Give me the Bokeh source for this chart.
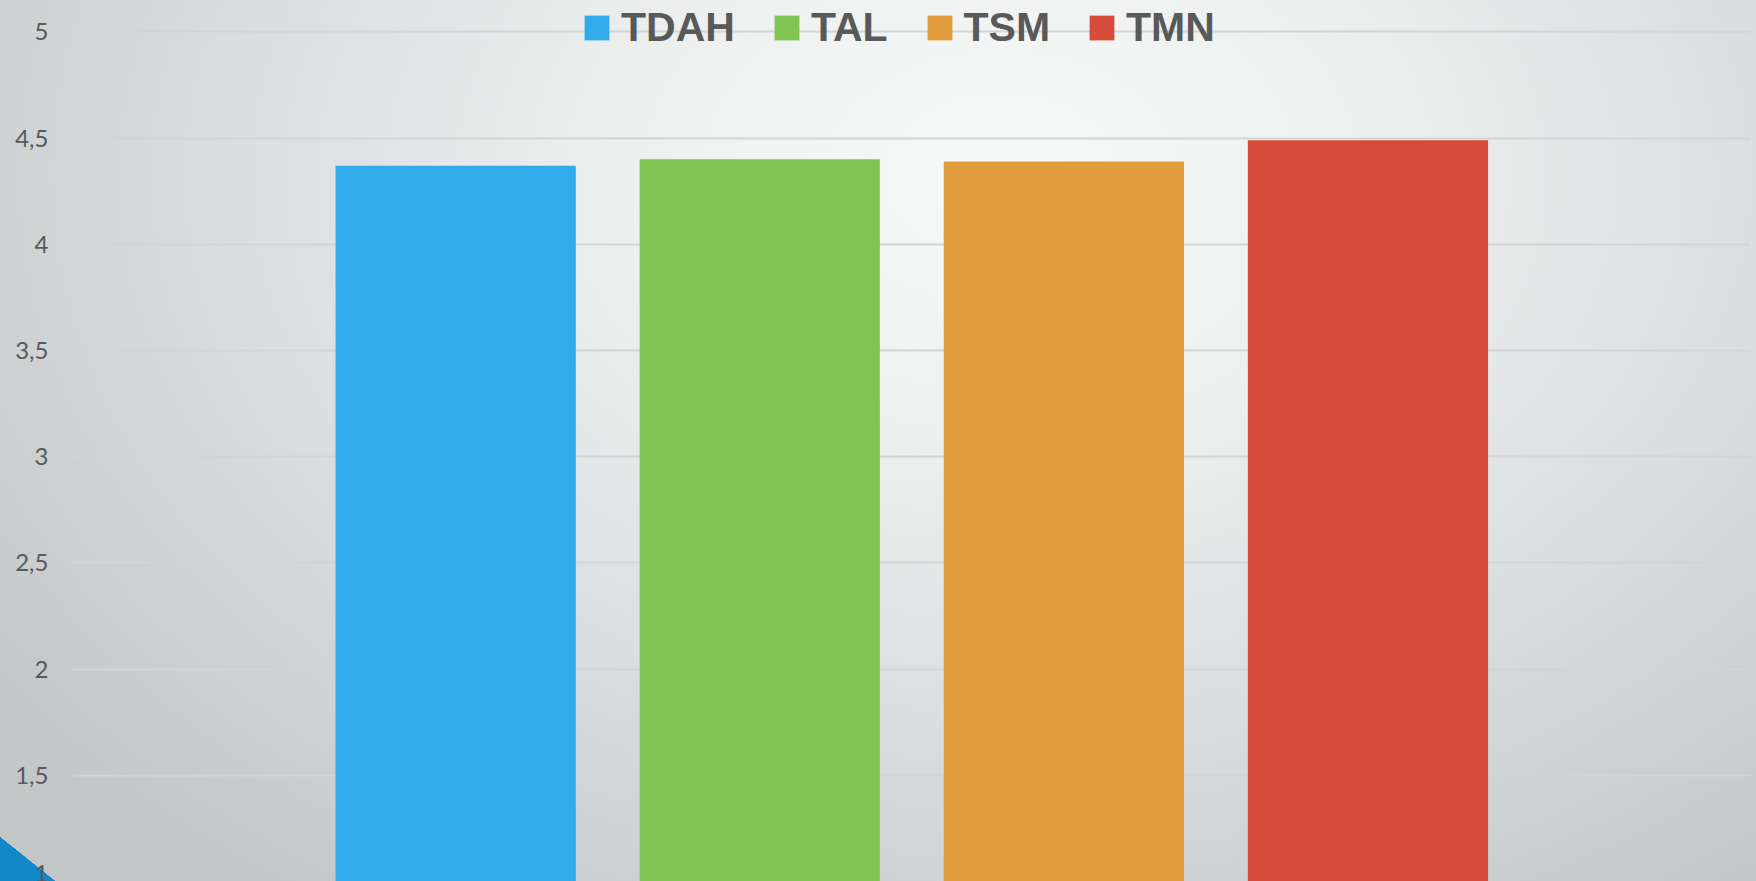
from bokeh.plotting import figure
from bokeh.models import Range1d, FixedTicker, ColumnDataSource, CustomJSTickFormatter
from bokeh.embed import file_html
from bokeh.resources import INLINE

categories = ["TDAH", "TAL", "TSM", "TMN"]
values = [4.37, 4.40, 4.39, 4.49]
colors = ["#31ACEB", "#81C451", "#E29D3E", "#D74B3B"]
y_ticks = [1, 1.5, 2, 2.5, 3, 3.5, 4, 4.5, 5]
y_tick_labels = ["1", "1,5", "2", "2,5", "3", "3,5", "4", "4,5", "5"]

src = ColumnDataSource(dict(
    x=list(range(len(categories))),
    top=values,
    color=colors,
    cat=categories,
))

W, H = 1756, 881
p = figure(width=W, height=H, output_backend="svg", toolbar_location=None,
           x_range=Range1d(-1.26, 4.258), y_range=Range1d(1, 5.148),
           x_axis_location=None,
           min_border_left=72, min_border_right=6, min_border_top=0, min_border_bottom=0)

p.vbar(x="x", top="top", bottom=1, width=0.79, fill_color="color", line_color=None,
       legend_field="cat", source=src)

p.background_fill_color = None
p.border_fill_color = None
p.outline_line_color = None
p.styles = {
    "background": (
        "linear-gradient(to top right, #1287c8 50%, rgba(18,135,200,0) 50.5%) left bottom / 55px 44px no-repeat, "
        "radial-gradient(ellipse 70% 100% at 57% 20%, #f8f9f9 0%, #eef0f0 30%, #d9dcdd 65%, #c3c7c8 100%)"
    )
}

p.xgrid.visible = False
p.ygrid.grid_line_color = "#d2d4d5"
p.ygrid.grid_line_width = 2

ax = p.yaxis[0]
ax.ticker = FixedTicker(ticks=y_ticks)
ax.formatter = CustomJSTickFormatter(args=dict(tvals=y_ticks, tlabels=y_tick_labels), code="""
const i = tvals.indexOf(tick);
return i >= 0 ? tlabels[i] : String(tick);
""")
ax.axis_line_color = None
ax.major_tick_line_color = None
ax.minor_tick_line_color = None
ax.major_label_text_font = "Lato"
ax.major_label_text_font_size = "24px"
ax.major_label_text_color = "#595959"
ax.major_label_standoff = 18

lg = p.legend[0]
lg.location = (509, 830)
lg.orientation = "horizontal"
lg.glyph_width = 31
lg.glyph_height = 31
lg.label_standoff = 9
lg.spacing = 36
lg.padding = 0
lg.margin = 0
lg.background_fill_alpha = 0
lg.border_line_color = None
lg.label_text_font = "Liberation Sans"
lg.label_text_font_style = "bold"
lg.label_text_font_size = "41px"
lg.label_text_color = "#595959"

open("out.html", "w").write(file_html(p, INLINE))
